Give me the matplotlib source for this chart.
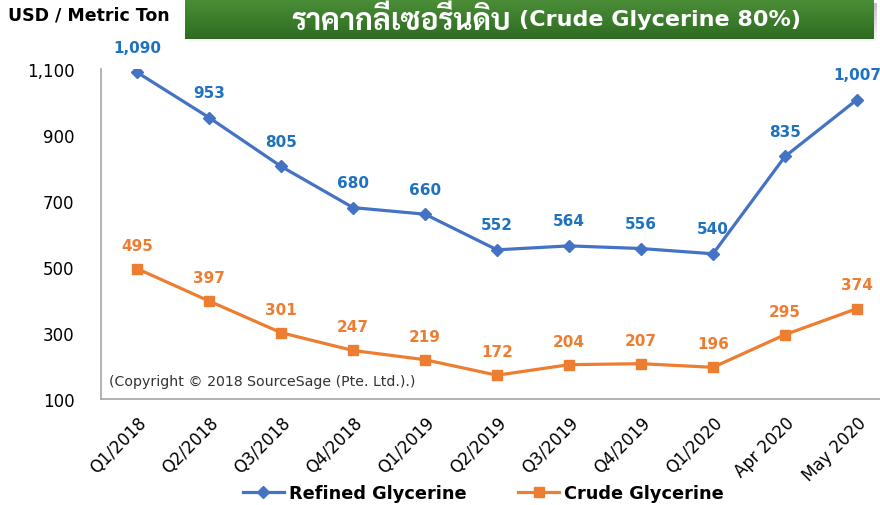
import matplotlib
matplotlib.use("Agg")
import matplotlib.pyplot as plt
import numpy as np

categories = ["Q1/2018", "Q2/2018", "Q3/2018", "Q4/2018", "Q1/2019", "Q2/2019",
              "Q3/2019", "Q4/2019", "Q1/2020", "Apr 2020", "May 2020"]
refined = [1090, 953, 805, 680, 660, 552, 564, 556, 540, 835, 1007]
crude = [495, 397, 301, 247, 219, 172, 204, 207, 196, 295, 374]
yticks = [100, 300, 500, 700, 900, 1100]

blue = "#4472c4"
blue_txt = "#1f72c0"
orange = "#ed7d31"
thai = ["Sarabun", "Bai Jamjuree", "DejaVu Sans"]

fig = plt.figure(figsize=(8.8, 5.06), dpi=100)
ax = fig.add_axes([101 / 880, 1 - 400 / 506, 779 / 880, 330 / 506])

x = np.arange(len(categories))
ax.plot(x, refined, color=blue, lw=2.3, marker="D", ms=6.5, label="Refined Glycerine")
ax.plot(x, crude, color=orange, lw=2.3, marker="s", ms=7, label="Crude Glycerine")

for i, v in enumerate(refined):
    ax.annotate(f"{v:,}", (i, v), xytext=(0, 18), textcoords="offset points",
                ha="center", va="center", color=blue_txt, fontsize=11, fontweight="bold",
                annotation_clip=False)
for i, v in enumerate(crude):
    ax.annotate(f"{v:,}", (i, v), xytext=(0, 17), textcoords="offset points",
                ha="center", va="center", color=orange, fontsize=11, fontweight="bold",
                annotation_clip=False)

ax.set_xlim(-0.5, 10 + 23 / 72)
ax.set_ylim(100, 1100)
ax.set_yticks(yticks)
ax.set_yticklabels([f"{t:,}" for t in yticks], fontsize=12)
ax.set_xticks(x)
ax.set_xticklabels(categories, rotation=45, ha="right", rotation_mode="anchor", fontsize=12)
ax.tick_params(length=0, pad=10)
ax.tick_params(axis="y", pad=19)
for s in ["top", "right"]:
    ax.spines[s].set_visible(False)
for s in ["left", "bottom"]:
    ax.spines[s].set_color("#a6a6a6")
    ax.spines[s].set_linewidth(1.2)

ax.text(0.01, 0.055, "(Copyright \u00a9 2018 SourceSage (Pte. Ltd.).)", transform=ax.transAxes,
        fontsize=10.2, color="#333333", va="center")

fig.text(8 / 880, 1 - 16 / 506, "USD / Metric Ton", fontsize=12.5, fontweight="bold", va="center")

# green title banner with shadow
shadow = fig.add_axes([189 / 880, 1 - 46 / 506, 688 / 880, 42 / 506])
shadow.imshow(np.linspace(0.6, 1, 10).reshape(-1, 1), cmap="gray", aspect="auto", vmin=0, vmax=1, alpha=0.6)
shadow.axis("off")
banner = fig.add_axes([185 / 880, 1 - 40 / 506, 688 / 880, 40 / 506])
grad = np.linspace(0, 1, 50).reshape(-1, 1)
top = np.array([0x4b, 0x8e, 0x37]) / 255
bot = np.array([0x2e, 0x6c, 0x22]) / 255
img = top + (bot - top) * grad[..., None]
banner.imshow(img, aspect="auto", extent=[0, 1, 0, 1])
banner.set_xlim(0, 1)
banner.set_ylim(0, 1)
banner.axis("off")
banner.text(0.474, 0.44, "ราคากลีเซอรีนดิบ", ha="right", va="center",
            color="white", fontsize=21.5, fontweight="bold", family=thai)
banner.text(0.486, 0.5, "(Crude Glycerine 80%)", ha="left", va="center",
            color="white", fontsize=16, fontweight="bold")

ax.legend(loc="center", bbox_to_anchor=(0.491, -0.285), ncol=2, frameon=False,
          prop={"size": 12.8, "weight": "bold"}, handlelength=2.3, columnspacing=2.9,
          handletextpad=0.3)

fig.savefig("out.png", dpi=100)
